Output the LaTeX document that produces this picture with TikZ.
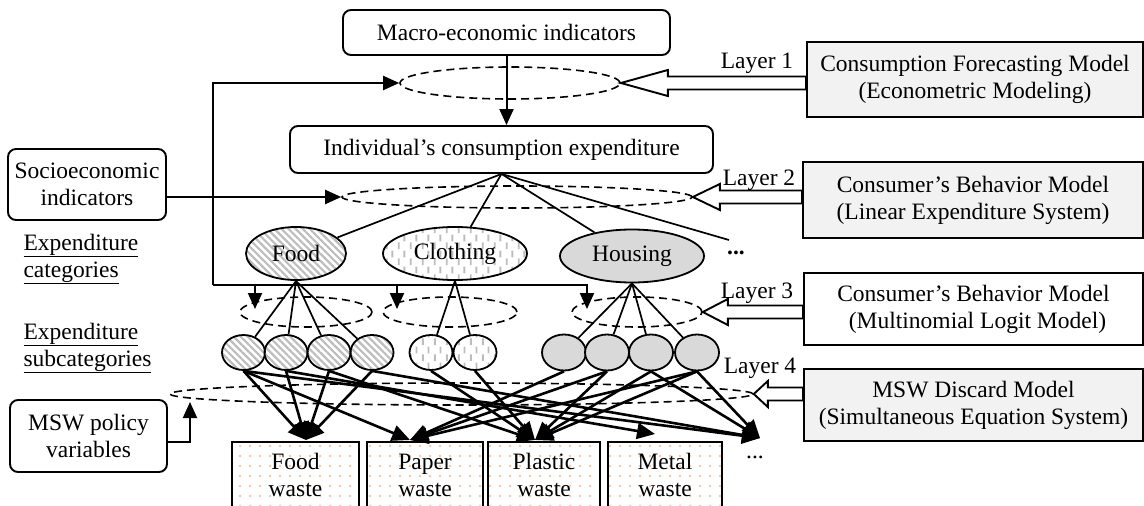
\documentclass[tikz,border=0pt]{standalone}
\usepackage{fontspec}
\setmainfont{Liberation Serif}
\usetikzlibrary{arrows.meta,shapes.geometric,patterns.meta,calc}

% staggered short vertical strokes for the clothing branch
\tikzdeclarepattern{
  name=VDashes,
  type=uncolored,
  bottom left={(0pt,0pt)},
  top right={(12pt,16pt)},
  tile size={(12pt,16pt)},
  code={
    \pgfsetlinewidth{2pt}
    \pgfpathmoveto{\pgfpoint{3pt}{1pt}}\pgfpathlineto{\pgfpoint{3pt}{8pt}}
    \pgfpathmoveto{\pgfpoint{9pt}{9pt}}\pgfpathlineto{\pgfpoint{9pt}{16pt}}
    \pgfusepath{stroke}
  }
}

\definecolor{hatchgray}{gray}{0.74}
\definecolor{housefill}{gray}{0.85}
\definecolor{modelfill}{gray}{0.95}
\definecolor{dotcol}{RGB}{244,196,164}

\tikzset{
  every node/.style={font=\fontsize{23.5}{27}\selectfont},
  rbox/.style={draw, rounded corners=8pt, line width=1.9pt, align=center, inner sep=0pt},
  mbox/.style={draw, line width=1.9pt, align=center, inner sep=0pt},
  layer/.style={draw, dashed, dash pattern=on 8pt off 5pt, line width=1.6pt, ellipse, inner sep=0pt},
  cat/.style={draw, ellipse, line width=1.8pt, inner sep=0pt, minimum height=53pt},
  sub/.style={draw, ellipse, line width=1.8pt, inner sep=0pt, minimum width=43pt, minimum height=35pt},
  foodfill/.style={pattern={Lines[angle=-45,distance=5pt,line width=2.2pt]}, pattern color=hatchgray},
  clothfill/.style={pattern=VDashes, pattern color=hatchgray},
  housefillst/.style={fill=housefill},
  wbox/.style={draw, line width=1.9pt, align=center, inner sep=0pt, minimum height=66pt,
               pattern={Dots[distance=10pt,radius=1.3pt]}, pattern color=dotcol},
  thinline/.style={line width=1.7pt},
  farrow/.style={line width=2pt, -{Triangle[length=16pt,width=14pt]}},
  warrow/.style={line width=2.6pt, -{Triangle[length=18pt,width=16pt]}},
  hollow/.style={draw, fill=white, line width=1.9pt, line join=miter},
}

% hollow block arrow from a model box (#2) to a layer ellipse (#1), head length #3
\newcommand{\layerarrow}[3]{%
  \draw[hollow] (#1.east) -- ($(#1.east)+(#3,-13)$) -- ($(#1.east)+(#3,-6.5)$)
    -- ($(#2.west |- #1.east)+(0,-6.5)$) -- ($(#2.west |- #1.east)+(0,6.5)$)
    -- ($(#1.east)+(#3,6.5)$) -- ($(#1.east)+(#3,13)$) -- cycle;}

\begin{document}
\begin{tikzpicture}[x=1pt, y=-1pt]
\useasboundingbox (0,0) rectangle (1144,506);
\clip (0,0) rectangle (1144,506);

% ---- top boxes
\node[rbox, minimum width=327pt, minimum height=45pt] (macro) at (506.5,32.5) {Macro-economic indicators};
\node[rbox, minimum width=423pt, minimum height=47pt] (indiv) at (501.5,149.5) {Individual’s consumption expenditure};
\node[rbox, minimum width=158pt, minimum height=71pt] (socio) at (87,184.5) {Socioeconomic\\indicators};
\node[rbox, minimum width=157pt, minimum height=72pt] (msw) at (88.5,436) {MSW policy\\variables};

% ---- model boxes
\node[mbox, fill=modelfill, minimum width=336pt, minimum height=75pt] (m1) at (975,79.5) {Consumption Forecasting Model\\(Econometric Modeling)};
\node[mbox, fill=modelfill, minimum width=340pt, minimum height=76pt] (m2) at (973,200) {Consumer’s Behavior Model\\(Linear Expenditure System)};
\node[mbox, fill=white, minimum width=339pt, minimum height=72pt] (m3) at (973.5,309) {Consumer’s Behavior Model\\\hspace*{8pt}(Multinomial Logit Model)};
\node[mbox, fill=modelfill, minimum width=339pt, minimum height=72pt] (m4) at (973.5,405) {MSW Discard Model\\(Simultaneous Equation System)};

% ---- layer ellipses
\node[layer, minimum width=220pt, minimum height=32pt] (l1) at (510,83) {};
\node[layer, minimum width=350pt, minimum height=22pt] (l2) at (517,197) {};
\node[layer, minimum width=132pt, minimum height=30pt] (l3a) at (306,312) {};
\node[layer, minimum width=134pt, minimum height=30pt] (l3b) at (450,312) {};
\node[layer, minimum width=130pt, minimum height=30pt] (l3c) at (637,312) {};
\node[layer, minimum width=583pt, minimum height=22pt] (l4) at (461.5,394) {};

% ---- layer labels
\node (lab1) at (757,63) {Layer 1};
\node (lab2) at (759,180) {Layer 2};
\node (lab3) at (757,293) {Layer 3};
\node (lab4) at (760,368) {Layer 4};

% ---- side headings
\node[align=left, anchor=west] (hcat) at (20,259) {\underline{Expenditure}\\\underline{categories}};
\node[align=left, anchor=west] (hsub) at (20,348) {\underline{Expenditure}\\\underline{subcategories}};

% ---- expenditure categories
\node[cat, foodfill, minimum width=100pt] (food) at (296,253.5) {Food};
\node[cat, clothfill, minimum width=144pt] (cloth) at (455,253.5) {Clothing};
\node[cat, housefillst, minimum width=144pt] (house) at (632,256) {Housing};
\node[inner sep=0pt] (catdots) at (736,253) {\textbf{...}};
\coordinate (catline) at (729,240);

% ---- subcategories
\foreach \n/\x in {f1/243.5, f2/286, f3/329, f4/372}
  \node[sub, foodfill] (\n) at (\x,352.5) {};
\foreach \n/\x in {c1/431, c2/475}
  \node[sub, clothfill] (\n) at (\x,352.5) {};
\foreach \n/\x in {h1/564, h2/607, h3/651, h4/697}
  \node[sub, housefillst, minimum width=44pt, minimum height=36pt] (\n) at (\x,352.5) {};

% ---- waste boxes
\node[wbox, minimum width=127pt] (wfood) at (295.5,475) {Food\\waste};
\node[wbox, minimum width=116pt] (wpaper) at (425,475) {Paper\\waste};
\node[wbox, minimum width=112pt] (wplastic) at (544,475) {Plastic\\waste};
\node[wbox, minimum width=114pt] (wmetal) at (665,475) {Metal\\waste};
\node[inner sep=0pt] (wdots) at (755,457) {...};

% arrow tips above the waste boxes
\coordinate (tfood) at (306,440);
\coordinate (tpaper) at (410,440);
\coordinate (tplastic) at (535,440);
\coordinate (tmetal) at (655,434);
\coordinate (tdots) at (760,438);

% ---- layer 1 flow
\draw[farrow] (macro.south) -- (macro.south |- indiv.north);

% feedback line to the lower layers
\coordinate (fbtop) at (213,83);
\coordinate (fbbot) at (213,285);
\coordinate (br1) at (255,285);
\coordinate (br2) at (397,285);
\coordinate (br3) at (587,285);
\draw[farrow] (fbbot) -- (fbtop) -- (l1.west);
\draw[farrow] (fbbot) -- (br3) -- ++(0,24);
\draw[farrow] (br1) -- ++(0,24);
\draw[farrow] (br2) -- ++(0,24);

% socioeconomic input and policy input
\draw[farrow] (socio.east |- l2.west) -- (l2.west);
\coordinate (l4in) at (190,402);
\draw[farrow] ([yshift=-6pt]msw.east) -| (l4in);

% ---- category tree
\draw[thinline] (indiv.south) -- (food);
\draw[thinline] (indiv.south) -- (cloth);
\draw[thinline] (indiv.south) -- (house);
\draw[thinline] (indiv.south) -- (catline);
\foreach \n in {f1,f2,f3,f4} \draw[thinline] (food.south) -- (\n);
\foreach \n in {c1,c2} \draw[thinline] (cloth.south) -- (\n);
\foreach \n in {h1,h2,h3,h4} \draw[thinline] (house.south) -- (\n);

% ---- subcategory to waste flows
\foreach \n in {f1,f2,f3,f4} \draw[warrow] (\n.south) -- (tfood);
\draw[warrow] (f1.south) -- (tpaper);
\draw[warrow] (f1.south) -- (tdots);
\draw[warrow] (f2.south) -- (tmetal);
\draw[warrow] (f3.south) -- (tplastic);
\draw[warrow] (f4.south) -- (tdots);
\draw[warrow] (c1.south) -- (tplastic);
\draw[warrow] (c2.south) -- (tplastic);
\draw[warrow] (h1.south) -- (tpaper);
\draw[warrow] (h2.south) -- (tpaper);
\draw[warrow] (h2.south) -- (tplastic);
\draw[warrow] (h3.south) -- (tplastic);
\draw[warrow] (h3.south) -- (tdots);
\draw[warrow] (h4.south) -- (tpaper);
\draw[warrow] (h4.south) -- (tplastic);
\draw[warrow] (h4.south) -- (tdots);

% ---- hollow layer arrows
\layerarrow{l1}{m1}{47}
\layerarrow{l2}{m2}{27}
\layerarrow{l3c}{m3}{25}
\layerarrow{l4}{m4}{14}

\end{tikzpicture}
\end{document}
